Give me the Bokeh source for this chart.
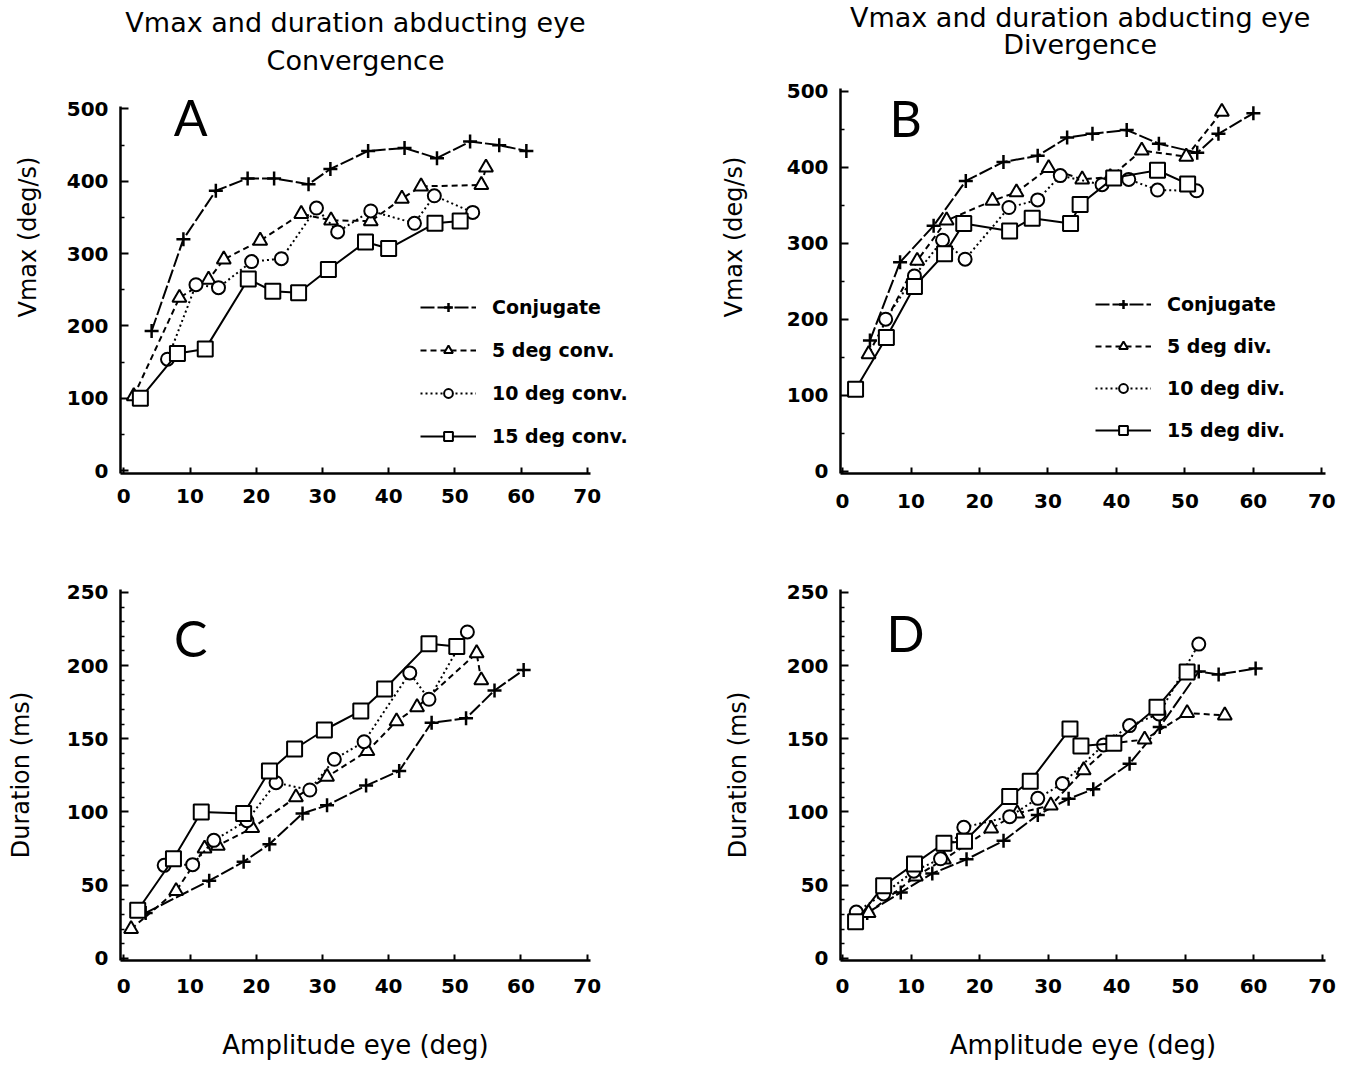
from bokeh.plotting import figure
from bokeh.models import Range1d, Label, Legend, LegendItem, FixedTicker
from bokeh.layouts import column, row
from bokeh.embed import file_html
from bokeh.resources import INLINE

# ---------------- data ----------------
# Panel A: Vmax, convergence
conjA_x = [4.2, 9.0, 13.9, 18.7, 22.7, 27.9, 31.2, 36.9, 42.4, 47.3, 52.3, 56.7, 60.8]
conjA_y = [193, 320, 387, 404, 404, 396, 417, 442, 446, 432, 455, 450, 442]
tri5A_x = [1.5, 8.4, 12.8, 15.1, 20.6, 26.8, 31.3, 37.3, 42.0, 44.9, 54.0, 54.7]
tri5A_y = [103, 239, 264, 292, 318, 355, 346, 345, 376, 393, 395, 419]
circ10A_x = [6.6, 10.9, 14.3, 19.3, 23.8, 29.1, 32.3, 37.3, 43.9, 46.9, 52.7]
circ10A_y = [154, 257, 253, 289, 293, 363, 330, 359, 342, 380, 357]
sq15A_x = [2.5, 8.1, 12.3, 18.8, 22.5, 26.4, 30.9, 36.5, 40.0, 47.0, 50.8]
sq15A_y = [100, 162, 168, 265, 248, 246, 278, 316, 307, 342, 345]

# Panel B: Vmax, divergence
conjB_x = [4.0, 8.4, 13.3, 18.0, 23.5, 28.5, 32.8, 36.5, 41.5, 46.2, 51.8, 54.9, 60.0]
conjB_y = [172, 275, 323, 382, 407, 415, 439, 444, 449, 431, 419, 444, 471]
tri5B_x = [3.8, 10.9, 15.2, 21.9, 25.4, 30.1, 35.0, 39.1, 43.7, 50.2, 55.4]
tri5B_y = [154, 277, 330, 356, 367, 399, 384, 387, 422, 414, 473]
circ10B_x = [6.3, 10.5, 14.6, 17.9, 24.3, 28.5, 31.8, 37.9, 41.8, 46.0, 51.7]
circ10B_y = [200, 257, 304, 279, 347, 357, 389, 377, 384, 370, 369]
sq15B_x = [1.9, 6.4, 10.5, 14.9, 17.7, 24.4, 27.7, 33.3, 34.7, 39.6, 46.0, 50.4]
sq15B_y = [108, 176, 243, 286, 326, 316, 333, 326, 351, 386, 396, 378]

# Panel C: duration, convergence
conjC_x = [3.3, 12.9, 18.1, 22.0, 27.0, 30.7, 36.6, 41.6, 46.5, 51.7, 56.0, 60.4]
conjC_y = [31, 53, 66, 78, 99, 104.5, 118, 128, 161, 164, 183, 197]
tri5C_x = [1.1, 7.9, 12.2, 14.2, 19.4, 26.0, 30.7, 36.8, 41.2, 44.3, 53.3, 54.0]
tri5C_y = [20, 46, 75, 77, 89, 110, 124, 141.6, 162, 171.6, 208.5, 190]
circ10C_x = [6.1, 10.4, 13.6, 18.6, 23.0, 28.1, 31.8, 36.3, 43.2, 46.1, 51.9]
circ10C_y = [63.5, 64, 80.6, 94, 120, 115, 136, 148, 195, 177, 223]
sq15C_x = [2.1, 7.5, 11.7, 18.1, 22.0, 25.8, 30.3, 35.8, 39.4, 46.1, 50.3]
sq15C_y = [32.8, 68, 100, 99, 128, 143, 156, 169, 184, 215, 213]

# Panel D: duration, divergence
conjD_x = [3.6, 8.5, 13.1, 18.1, 23.5, 28.5, 33.0, 36.6, 41.9, 46.3, 52.0, 54.9, 60.3]
conjD_y = [31, 45, 58, 67.6, 80.3, 98, 109, 115.5, 133, 158, 196, 194, 198]
tri5D_x = [3.8, 10.7, 14.8, 21.7, 25.5, 30.4, 35.2, 39.6, 44.1, 50.3, 55.8]
tri5D_y = [31, 56, 67.6, 88.7, 99, 104.5, 128.6, 147, 149.5, 167.6, 166]
circ10D_x = [2.0, 6.0, 10.4, 14.3, 17.7, 24.4, 28.5, 32.1, 38.1, 41.9, 46.2, 52.0]
circ10D_y = [31.6, 44, 59.5, 68, 89.5, 96.8, 109.3, 119.4, 145.8, 159, 167, 214.7]
sq15D_x = [1.9, 6.0, 10.5, 14.8, 17.8, 24.4, 27.4, 33.2, 34.8, 39.6, 45.9, 50.3]
sq15D_y = [25, 49.6, 64.5, 78.6, 80, 110.6, 121, 156.7, 145, 147, 171.5, 195.6]

x_ticks = [0, 10, 20, 30, 40, 50, 60, 70]
vmax_ticks = [0, 100, 200, 300, 400, 500]
dur_ticks = [0, 50, 100, 150, 200, 250]

conv_labels = ["Conjugate", "5 deg conv.", "10 deg conv.", "15 deg conv."]
div_labels = ["Conjugate", "5 deg div.", "10 deg div.", "15 deg div."]
title_line1 = "Vmax and duration abducting eye"

FONT = "DejaVu Sans"

STYLES = [
    dict(dash="14 3", marker="cross", size=14),
    dict(dash="6 4", marker="triangle", size=14),
    dict(dash="2 3", marker="circle", size=13),
    dict(dash="solid", marker="square", size=15),
]


def make_panel(width, height, xr, yr, xbounds, ybounds, borders, yticks, yminor,
               series, ylabel, ylabel_standoff, xlabel, xlabel_standoff, x_std,
               letter, letter_xy, titles=None, legend=None):
    p = figure(width=width, height=height, output_backend="svg",
               toolbar_location=None,
               x_range=Range1d(*xr), y_range=Range1d(*yr))
    p.min_border_left, p.min_border_right, p.min_border_top, p.min_border_bottom = borders
    p.outline_line_color = None
    p.xgrid.visible = False
    p.ygrid.visible = False
    p.background_fill_color = "white"
    p.border_fill_color = "white"

    for ax in (p.xaxis[0], p.yaxis[0]):
        ax.axis_line_width = 2.5
        ax.axis_line_color = "black"
        ax.major_tick_line_width = 2
        ax.minor_tick_line_width = 1.5
        ax.major_tick_out = 0
        ax.minor_tick_out = 0
        ax.major_label_text_font = FONT
        ax.major_label_text_font_style = "bold"
        ax.major_label_text_font_size = "20px"
        ax.major_label_text_color = "black"
        ax.axis_label_text_font = FONT
        ax.axis_label_text_font_style = "normal"
        ax.axis_label_text_color = "black"

    p.xaxis.ticker = FixedTicker(ticks=x_ticks, minor_ticks=[])
    p.xaxis.bounds = xbounds
    p.xaxis.major_tick_in = 6
    p.xaxis.minor_tick_in = 0
    p.xaxis.major_label_standoff = x_std
    if xlabel:
        p.xaxis.axis_label = xlabel
        p.xaxis.axis_label_text_font_size = "26px"
        p.xaxis.axis_label_standoff = xlabel_standoff

    p.yaxis.ticker = FixedTicker(ticks=yticks, minor_ticks=yminor)
    p.yaxis.bounds = ybounds
    p.yaxis.major_tick_in = 8
    p.yaxis.minor_tick_in = 4
    p.yaxis.major_label_standoff = 12
    p.yaxis.axis_label = ylabel
    p.yaxis.axis_label_text_font_size = "24px"
    p.yaxis.axis_label_standoff = ylabel_standoff

    items = []
    labels = legend[1] if legend else [None] * 4
    for (sx, sy), st, lab in zip(series, STYLES, labels):
        lr = p.line(sx, sy, line_color="black", line_width=2, line_dash=st["dash"])
        if st["marker"] == "cross":
            mr = p.scatter(sx, sy, marker="cross", size=st["size"],
                           line_color="black", line_width=2.5)
        else:
            mr = p.scatter(sx, sy, marker=st["marker"], size=st["size"],
                           line_color="black", line_width=2, fill_color="white")
        if lab:
            items.append(LegendItem(label=lab, renderers=[lr, mr]))

    if legend:
        lg = Legend(items=items, location=legend[0], orientation="vertical",
                    glyph_width=56, glyph_height=22, label_height=22,
                    label_standoff=16, spacing=legend[2], padding=0, margin=0,
                    border_line_color=None, background_fill_alpha=0,
                    label_text_font=FONT, label_text_font_style="bold",
                    label_text_font_size="19px", label_text_color="black",
                    label_text_baseline="middle")
        p.add_layout(lg, "center")

    p.add_layout(Label(x=letter_xy[0], y=letter_xy[1], text=letter,
                       text_align="center", text_baseline="middle",
                       text_font="Lato", text_font_size="50px",
                       text_color="black"))
    if titles:
        for (tx, ty, tt) in titles:
            p.add_layout(Label(x=tx, y=ty, text=tt, text_align="center",
                               text_baseline="middle", text_font=FONT,
                               text_font_size="27px", text_color="black"))
    return p


W1, W2 = 700, 659
H1, H2 = 540, 525

vmax_minor = [50, 150, 250, 350, 450]
dur_minor = [t for t in range(0, 251, 10) if t % 50 != 0]

pA = make_panel(W1, H1, (-0.5, 87.1), (-4, 650), (-0.5, 70.5), (-4, 503),
                (120, 0, 0, 60), vmax_ticks, vmax_minor,
                [(conjA_x, conjA_y), (tri5A_x, tri5A_y), (circ10A_x, circ10A_y), (sq15A_x, sq15A_y)],
                "Vmax (deg/s)", 22, None, 0, 15, "A", (10.1, 489),
                titles=[(35.0, 620, title_line1), (35.0, 567, "Convergence")],
                legend=((300, 26), conv_labels, 21))

pB = make_panel(W2, H1, (-0.3, 75.5), (-3, 619.4), (-0.3, 70.5), (-3, 503),
                (140, 0, 0, 67), vmax_ticks, vmax_minor,
                [(conjB_x, conjB_y), (tri5B_x, tri5B_y), (circ10B_x, circ10B_y), (sq15B_x, sq15B_y)],
                "Vmax (deg/s)", 36, None, 0, 20, "B", (9.2, 465),
                titles=[(34.7, 597, title_line1), (34.7, 561, "Divergence")],
                legend=((255, 32), div_labels, 20))

pC = make_panel(W1, H2, (-0.5, 70.5), (-1.5, 252), (-0.5, 70.5), (-1.5, 252),
                (120, 110, 49, 105), dur_ticks, dur_minor,
                [(conjC_x, conjC_y), (tri5C_x, tri5C_y), (circ10C_x, circ10C_y), (sq15C_x, sq15C_y)],
                "Duration (ms)", 29, "Amplitude eye (deg)", 34, 18, "C", (10.1, 219))

pD = make_panel(W2, H2, (-0.3, 70.5), (-1.5, 252), (-0.3, 70.5), (-1.5, 252),
                (140, 34, 36, 104), dur_ticks, dur_minor,
                [(conjD_x, conjD_y), (tri5D_x, tri5D_y), (circ10D_x, circ10D_y), (sq15D_x, sq15D_y)],
                "Duration (ms)", 32, "Amplitude eye (deg)", 34, 18, "D", (9.2, 222))

layout = column(row(pA, pB, spacing=0), row(pC, pD, spacing=0), spacing=0)

open("out.html", "w").write(file_html(layout, INLINE))
